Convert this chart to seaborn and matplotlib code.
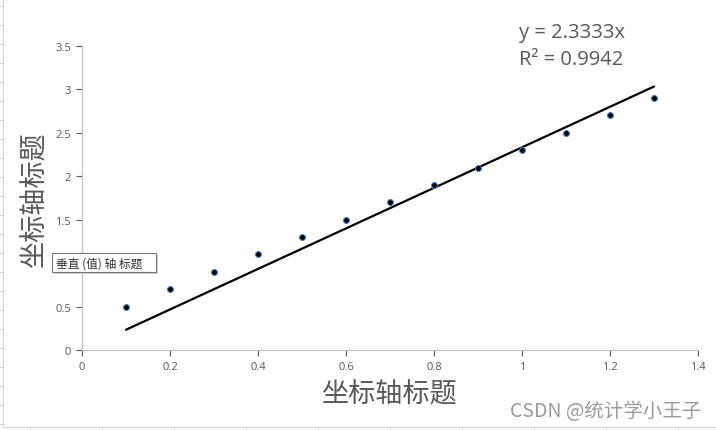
import numpy as np
import pandas as pd
import matplotlib.pyplot as plt
import seaborn as sns
from matplotlib.lines import Line2D
from matplotlib.patches import Rectangle

x_vals = [0.1, 0.2, 0.3, 0.4, 0.5, 0.6, 0.7, 0.8, 0.9, 1.0, 1.1, 1.2, 1.3]
y_vals = [0.5, 0.7, 0.9, 1.1, 1.3, 1.5, 1.7, 1.9, 2.1, 2.3, 2.5, 2.7, 2.9]
x_ticks = [0, 0.2, 0.4, 0.6, 0.8, 1, 1.2, 1.4]
y_ticks = [0, 0.5, 1, 1.5, 2, 2.5, 3, 3.5]
# the "1" label sits under the hover tooltip in the screenshot
y_tick_labels = ['0', '0.5', '', '1.5', '2', '2.5', '3', '3.5']
eq_text = 'y = 2.3333x'
r2_text = 'R² = 0.9942'
axis_title = '坐标轴标题'
tip_text = '垂直 (值) 轴 标题'
mark_text = 'CSDN @统计学小王子'

df = pd.DataFrame({'x': x_vals, 'y': y_vals})
# linear trend through origin, like Excel's "set intercept = 0"
slope = (df.x * df.y).sum() / (df.x ** 2).sum()
df['fit'] = slope * df.x

sns.set_theme(style='white')
plt.rcParams['font.family'] = ['Noto Sans CJK SC', 'DejaVu Sans']

W, H = 716, 431
fig = plt.figure(figsize=(W / 100, H / 100), dpi=100)
ax = fig.add_axes([82 / W, 1 - 351 / H, 616 / W, 304 / H])

sns.lineplot(data=df, x='x', y='fit', ax=ax, color='black', lw=1.6)
sns.scatterplot(data=df, x='x', y='y', ax=ax, color='black', s=18,
                edgecolor='#4f81bd', linewidth=0.8, zorder=3)

gray = '#595959'
ax.set_xlim(0, 1.4)
ax.set_ylim(0, 3.5)
ax.set_xticks(x_ticks)
ax.set_yticks(y_ticks)
ax.set_xticklabels([f'{t:g}' for t in x_ticks])
ax.set_yticklabels(y_tick_labels)
ax.tick_params(axis='both', labelsize=8, colors=gray, length=4, width=0.8,
               direction='out', pad=4, bottom=True, left=True)
for lab in ax.get_xticklabels() + ax.get_yticklabels():
    lab.set_family(['Open Sans', 'DejaVu Sans'])
for t in ax.get_xticklines() + ax.get_yticklines():
    t.set_color('#bfbfbf')
for side in ['top', 'right']:
    ax.spines[side].set_visible(False)
for side in ['left', 'bottom']:
    ax.spines[side].set_color('#bfbfbf')
    ax.spines[side].set_linewidth(0.8)
ax.set_xlabel(axis_title, fontsize=19.5, color=gray, labelpad=6)
ax.set_ylabel(axis_title, fontsize=19.5, color=gray, labelpad=5)

fig.text(519 / W, 1 - 33 / H, eq_text, fontsize=14.5, color=gray,
         va='center', family=['Open Sans', 'DejaVu Sans'])
fig.text(519 / W, 1 - 60 / H, r2_text, fontsize=14.5, color=gray,
         va='center', family=['Open Sans', 'DejaVu Sans'])

# hover tooltip with a soft shadow
fig.add_artist(Rectangle((54 / W, 1 - 275 / H), 104 / W, 19 / H,
                         fc='#d0d0d0', ec='none', zorder=4))
fig.add_artist(Rectangle((52 / W, 1 - 273 / H), 104 / W, 19 / H,
                         fc='white', ec='#767676', lw=0.8, zorder=5))
fig.text(56 / W, 1 - 264 / H, tip_text, fontsize=8.5, color='#333333',
         va='center', zorder=6)

fig.text(510 / W, 1 - 412 / H, mark_text, fontsize=14, color='#9a9a9a',
         va='center')

# spreadsheet grid peeking at the edges
grid = '#d4d4d4'
fig.add_artist(Line2D([3 / W, 3 / W], [1 - 428 / H, 1], color=grid, lw=0.8))
fig.add_artist(Line2D([3 / W, 1], [1 - 428 / H, 1 - 428 / H], color=grid, lw=0.8))
for py in range(7, 428, 19):
    fig.add_artist(Line2D([0, 3 / W], [1 - py / H, 1 - py / H], color=grid, lw=0.8))
for px in range(30, W, 72):
    fig.add_artist(Line2D([px / W, px / W], [0, 1 - 428 / H], color=grid, lw=0.8))

fig.savefig('out.png', dpi=100)
